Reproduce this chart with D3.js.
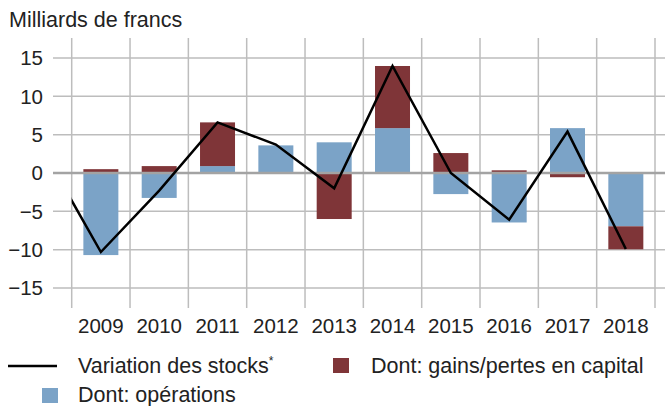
<!DOCTYPE html>
<html lang="fr">
<head>
<meta charset="UTF-8"/>
<title>Variation des stocks</title>
<script src="https://d3js.org/d3.v7.min.js"></script>
<style>
  body { margin: 0; background: #fff; }
  svg text { font-family: "Liberation Sans", Arial, sans-serif; fill: #222; }
</style>
</head>
<body>
<script>
// data
var years = ["2009","2010","2011","2012","2013","2014","2015","2016","2017","2018"];
var operations = [-10.7, -3.25, 0.9, 3.6, 4.0, 5.85, -2.75, -6.45, 5.85, -6.95];
var gains = [0.5, 0.9, 5.7, 0.0, -6.0, 8.1, 2.6, 0.35, -0.55, -3.0];
// line also has the 2008 point, cut off at the left edge of the plot
var lineYears = [2008, 2009, 2010, 2011, 2012, 2013, 2014, 2015, 2016, 2017, 2018];
var stocks = [3.1, -10.3, -2.3, 6.6, 3.7, -2.0, 13.95, 0.0, -6.1, 5.4, -9.9];
var yTicks = [-15, -10, -5, 0, 5, 10, 15];

var w = 665, h = 406;
var pLeft = 71.7, pRight = 655, pTop = 38, pBottom = 308;
var blue = "#7ba3c7", red = "#7f3538", grid = "#bdbdbd";

var svg = d3.select("body").append("svg")
    .attr("width", w)
    .attr("height", h);

var x = d3.scaleBand()
    .domain(years)
    .range([pLeft, pRight])
    .paddingInner(0.4)
    .paddingOuter(0.2);

var y = d3.scaleLinear()
    .domain([-17.6, 17.6])
    .range([pBottom, pTop]);

var step = x.step();
var xc = d3.scaleLinear()
    .domain([2009, 2018])
    .range([x("2009") + x.bandwidth() / 2, x("2018") + x.bandwidth() / 2]);

// title
svg.append("text")
    .attr("x", 9)
    .attr("y", 27)
    .style("font-size", "21.5px")
    .text("Milliards de francs");

// horizontal grid
svg.selectAll(".hgrid")
    .data(yTicks.filter(function(d){ return d !== 0; }))
    .enter()
    .append("line")
    .attr("class", "hgrid")
    .attr("x1", 53).attr("x2", w)
    .attr("y1", function(d){ return y(d); })
    .attr("y2", function(d){ return y(d); })
    .attr("stroke", grid)
    .attr("stroke-width", 1.5);

// vertical grid at category boundaries
svg.selectAll(".vgrid")
    .data(d3.range(years.length + 1))
    .enter()
    .append("line")
    .attr("class", "vgrid")
    .attr("x1", function(i){ return pLeft + i * step; })
    .attr("x2", function(i){ return pLeft + i * step; })
    .attr("y1", pTop).attr("y2", pBottom)
    .attr("stroke", grid)
    .attr("stroke-width", 1.5);

// y tick labels
svg.selectAll(".ylab")
    .data(yTicks)
    .enter()
    .append("text")
    .attr("class", "ylab")
    .attr("x", 43)
    .attr("y", function(d){ return y(d); })
    .attr("dy", "0.36em")
    .attr("text-anchor", "end")
    .style("font-size", "20.5px")
    .text(function(d){ return d < 0 ? "\u2212" + Math.abs(d) : d; });

// x labels
svg.selectAll(".xlab")
    .data(years)
    .enter()
    .append("text")
    .attr("class", "xlab")
    .attr("x", function(d){ return x(d) + x.bandwidth() / 2; })
    .attr("y", 333)
    .attr("text-anchor", "middle")
    .style("font-size", "20.5px")
    .text(function(d){ return d; });

// stacked bars, positives up and negatives down
var table = years.map(function(yr, i){
    return { year: yr, ops: operations[i], gains: gains[i] };
});
var stack = d3.stack()
    .keys(["ops", "gains"])
    .offset(d3.stackOffsetDiverging);
var series = stack(table);
var colors = { ops: blue, gains: red };

svg.selectAll(".series")
    .data(series)
    .enter()
    .append("g")
    .attr("class", "series")
    .attr("fill", function(s){ return colors[s.key]; })
    .selectAll("rect")
    .data(function(s){ return s; })
    .enter()
    .append("rect")
    .attr("x", function(d){ return x(d.data.year); })
    .attr("width", x.bandwidth())
    .attr("y", function(d){ return y(Math.max(d[0], d[1])); })
    .attr("height", function(d){ return Math.abs(y(d[0]) - y(d[1])); });

// zero line
svg.append("line")
    .attr("x1", 53).attr("x2", w)
    .attr("y1", y(0)).attr("y2", y(0))
    .attr("stroke", "#a3a3a3")
    .attr("stroke-width", 2.5);

// stock variation line
svg.append("clipPath")
    .attr("id", "plot")
    .append("rect")
    .attr("x", pLeft).attr("y", 0)
    .attr("width", pRight - pLeft).attr("height", h);

var line = d3.line()
    .x(function(d, i){ return xc(lineYears[i]); })
    .y(function(d){ return y(d); });

svg.append("path")
    .datum(stocks)
    .attr("clip-path", "url(#plot)")
    .attr("d", line)
    .attr("fill", "none")
    .attr("stroke", "#000")
    .attr("stroke-width", 2.5)
    .attr("stroke-linejoin", "miter");

// legend
var lg = svg.append("g").style("font-size", "21.5px");
lg.append("line")
    .attr("x1", 8).attr("x2", 57)
    .attr("y1", 366).attr("y2", 366)
    .attr("stroke", "#000")
    .attr("stroke-width", 2.5);
var t1 = lg.append("text").attr("x", 78).attr("y", 373);
t1.append("tspan").text("Variation des stocks");
t1.append("tspan").attr("dy", -8).style("font-size", "12px").text("*");

lg.append("rect")
    .attr("x", 333).attr("y", 358)
    .attr("width", 16).attr("height", 15)
    .attr("fill", red);
lg.append("text").attr("x", 371).attr("y", 373).text("Dont: gains/pertes en capital");

lg.append("rect")
    .attr("x", 42).attr("y", 388)
    .attr("width", 16).attr("height", 15)
    .attr("fill", blue);
lg.append("text").attr("x", 78).attr("y", 402).text("Dont: opérations");
</script>
</body>
</html>
